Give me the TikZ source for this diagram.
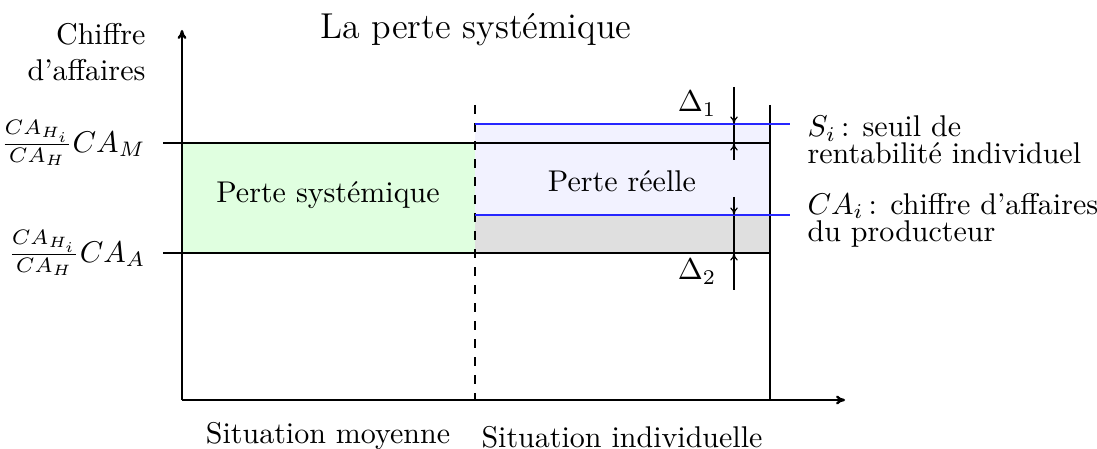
\documentclass[tikz,border=0pt]{standalone}
\usetikzlibrary{arrows.meta}
\begin{document}
\begin{tikzpicture}[x=0.3333pt,y=-0.3333pt,
  axis/.style={line width=0.8pt,-{To[length=3pt,width=3pt]}},
  thinline/.style={line width=0.4pt},
  blueline/.style={blue!85,line width=0.9pt},
  delta/.style={line width=0.4pt,-{To[length=2.5pt,width=2.5pt]}},
  lbl/.style={inner sep=0pt}]
\useasboundingbox (0,0) rectangle (1097,449);
% fills
\fill[green!12] (182,143) rectangle (475,253);
\fill[blue!5] (475,124) rectangle (770,215);
\fill[gray!25] (475,215) rectangle (770,253);
% coordinates
\coordinate (O) at (182,400);
\coordinate (Ytop) at (182,30);
\coordinate (Xend) at (845,400);
\coordinate (MA) at (163,143); \coordinate (MB) at (770,143);
\coordinate (AA) at (163,253); \coordinate (AB) at (770,253);
\coordinate (D1) at (475,105); \coordinate (D2) at (475,400);
\coordinate (R1) at (770,105); \coordinate (R2) at (770,400);
\coordinate (S1) at (475,124); \coordinate (S2) at (790,124);
\coordinate (C1) at (475,215); \coordinate (C2) at (790,215);
\coordinate (a1) at (734,87); \coordinate (a1e) at (734,124);
\coordinate (a2) at (734,160); \coordinate (a2e) at (734,143);
\coordinate (a3) at (734,197); \coordinate (a3e) at (734,215);
\coordinate (a4) at (734,290); \coordinate (a4e) at (734,253);
% lines
\draw[thinline] (MA) -- (MB);
\draw[thinline] (AA) -- (AB);
\draw[thinline,dashed] (D1) -- (D2);
\draw[thinline] (R1) -- (R2);
\draw[thinline] (a1e) -- (a2e);
\draw[thinline] (a3e) -- (a4e);
\draw[blueline] (S1) -- (S2);
\draw[blueline] (C1) -- (C2);
\draw[axis] (O) -- (Ytop);
\draw[axis] (O) -- (Xend);
\draw[delta] (a1) -- (a1e);
\draw[delta] (a2) -- (a2e);
\draw[delta] (a3) -- (a3e);
\draw[delta] (a4) -- (a4e);
% texts
\node[lbl,font=\large] (title) at (476,30) {La perte systémique};
\node[lbl,anchor=east,align=right] (yl) at (146,52) {Chiffre\\d'affaires};
\node[lbl,anchor=east] (lm) at (146,143) {$\frac{CA_{H_i}}{CA_H}CA_M$};
\node[lbl,anchor=east] (la) at (146,253) {$\frac{CA_{H_i}}{CA_H}CA_A$};
\node[lbl] (ps) at (328,195) {Perte systémique};
\node[lbl] (pr) at (622,181) {Perte réelle};
\node[lbl] (d1) at (697,104) {$\Delta_1$};
\node[lbl] (d2) at (697,272) {$\Delta_2$};
\node[lbl,anchor=west,align=left] (si) at (807,140) {$S_i$\,: seuil de\\[-3pt]rentabilité individuel};
\node[lbl,anchor=west,align=left] (cai) at (807,220) {$CA_i$\,: chiffre d'affaires\\[-3pt]du producteur};
\node[lbl] (sm) at (328,436) {Situation moyenne};
\node[lbl] (sind) at (622,437) {Situation individuelle};
\end{tikzpicture}
\end{document}
